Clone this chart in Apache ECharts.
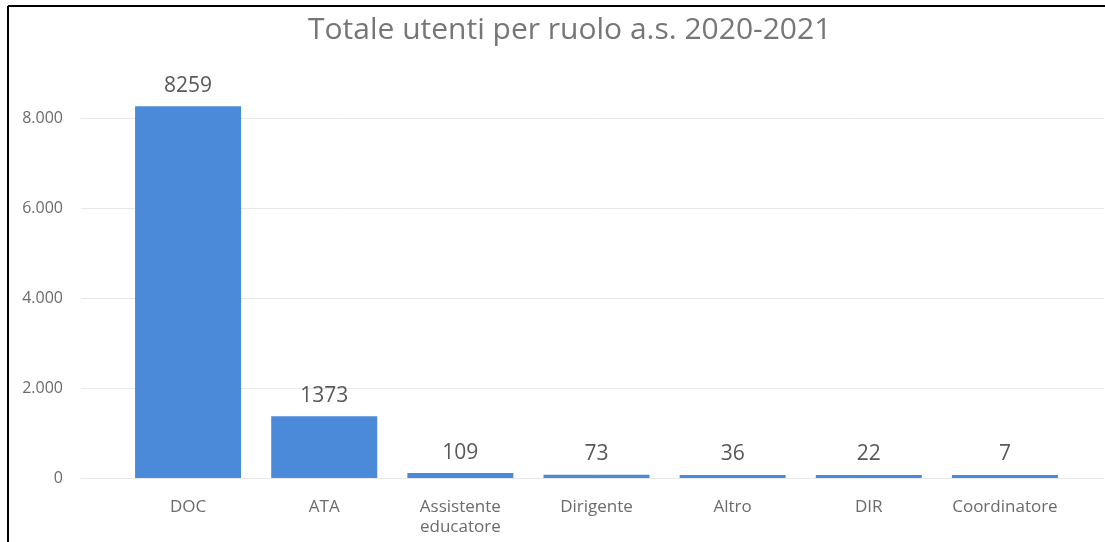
<!DOCTYPE html>
<html>
<head>
<meta charset="utf-8">
<script src="https://cdn.jsdelivr.net/npm/echarts@6/dist/echarts.min.js"></script>
<style>
html,body{margin:0;padding:0;background:#fff;}
#c{width:1105px;height:542px;}
</style>
</head>
<body>
<div id="c"></div>
<script>
const titleText = 'Totale utenti per ruolo a.s. 2020-2021';
const categories = ['DOC', 'ATA', 'Assistente\neducatore', 'Dirigente', 'Altro', 'DIR', 'Coordinatore'];
const values = [8259, 1373, 109, 73, 36, 22, 7];
const yMin = 0, yMax = 8000, yInterval = 2000;

const font = '"Open Sans", "Noto Sans", sans-serif';
const chart = echarts.init(document.getElementById('c'), null, {renderer: 'canvas'});
chart.setOption({
  animation: false,
  backgroundColor: '#ffffff',
  title: {
    text: titleText,
    left: 303,
    top: 10,
    textStyle: {fontFamily: font, fontSize: 30, fontWeight: 'normal', color: '#767676'}
  },
  grid: [
    {left: 81, right: 1, top: 118, bottom: 64},
    {left: 120, right: 32, top: 118, bottom: 64}
  ],
  xAxis: [
    {gridIndex: 0, type: 'category', data: categories, show: false},
    {
      gridIndex: 1, type: 'category', data: categories,
      axisLine: {show: false}, axisTick: {show: false},
      axisLabel: {fontFamily: font, fontSize: 17, color: '#6b6b6b', margin: 19, lineHeight: 20, interval: 0}
    }
  ],
  yAxis: [
    {
      gridIndex: 0, type: 'value', min: yMin, max: yMax, interval: yInterval,
      axisLine: {show: false}, axisTick: {show: false},
      splitLine: {lineStyle: {color: '#e8e8e8', width: 1}},
      axisLabel: {
        fontFamily: font, fontSize: 16, color: '#6b6b6b', margin: 18,
        formatter: v => v === 0 ? '0' : v.toLocaleString('de-DE')
      }
    },
    {gridIndex: 1, type: 'value', min: yMin, max: yMax, interval: yInterval, show: false, splitLine: {show: false}}
  ],
  series: [{
    type: 'bar',
    xAxisIndex: 1, yAxisIndex: 1,
    data: values,
    barWidth: 106,
    barMinHeight: 3,
    clip: false,
    itemStyle: {color: '#4a8ad9'},
    label: {
      show: true, position: 'top', distance: 10,
      fontFamily: font, fontSize: 21, color: '#585858'
    }
  }],
  graphic: [
    {type: 'line', shape: {x1: 8, y1: 6, x2: 1105, y2: 6}, style: {stroke: '#000', lineWidth: 2}},
    {type: 'line', shape: {x1: 8, y1: 6, x2: 8, y2: 542}, style: {stroke: '#000', lineWidth: 2}}
  ]
});
</script>
</body>
</html>
